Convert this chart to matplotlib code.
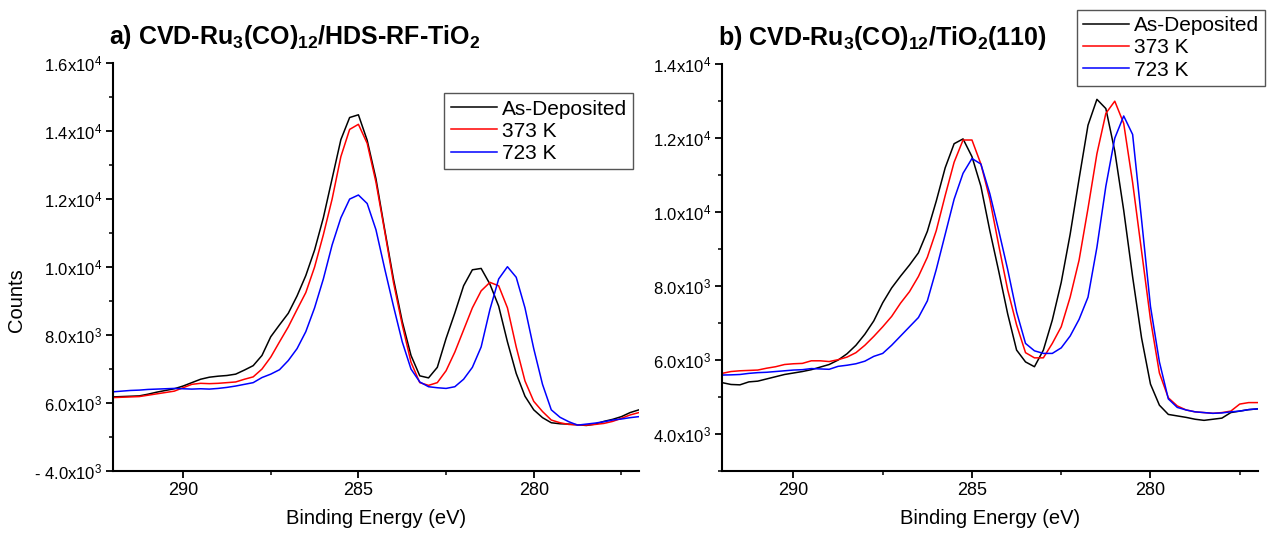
#XPS C 1s / Ru 3d spectra of CVD-Ru3(CO)12 samples after annealing
import numpy as np
import matplotlib
matplotlib.use('Agg')
import matplotlib.pyplot as plt
from matplotlib.ticker import MultipleLocator

plt.rcParams['font.family'] = ['Liberation Sans', 'DejaVu Sans']
plt.rcParams['mathtext.default'] = 'regular'

#binding energy grid (eV), shared by both panels
energy = [292.0 - 0.25 * i for i in range(61)]

#panel a) HDS-RF-TiO2 counts
a_as_dep = [6180, 6190, 6200, 6210, 6260, 6320, 6370, 6420, 6500, 6600,
            6700, 6760, 6790, 6810, 6850, 6970, 7100, 7400, 7950, 8300,
            8640, 9150, 9750, 10500, 11450, 12600, 13750, 14400, 14480, 13730,
            12600, 11100, 9650, 8400, 7400, 6800, 6740, 7050, 7900, 8650,
            9450, 9920, 9960, 9500, 8850, 7800, 6870, 6200, 5800, 5570,
            5420, 5390, 5380, 5360, 5340, 5380, 5460, 5520, 5600, 5720, 5800]
a_373 = [6160, 6170, 6180, 6190, 6230, 6270, 6310, 6350, 6450, 6550,
         6580, 6570, 6580, 6600, 6620, 6700, 6770, 7000, 7350, 7800,
         8240, 8750, 9250, 10000, 10950, 12000, 13250, 14050, 14200, 13640,
         12500, 11050, 9550, 8300, 7200, 6600, 6520, 6600, 6950, 7500,
         8150, 8800, 9300, 9550, 9450, 8800, 7650, 6650, 6050, 5750,
         5500, 5420, 5370, 5360, 5350, 5370, 5400, 5460, 5550, 5650, 5720]
a_723 = [6330, 6350, 6370, 6380, 6400, 6410, 6420, 6430, 6420, 6410,
         6420, 6410, 6430, 6460, 6500, 6550, 6600, 6750, 6850, 6980,
         7250, 7600, 8100, 8800, 9650, 10650, 11450, 12000, 12120, 11870,
         11100, 9950, 8850, 7800, 7000, 6620, 6480, 6450, 6430, 6480,
         6700, 7050, 7650, 8750, 9650, 10010, 9700, 8800, 7600, 6550,
         5800, 5580, 5450, 5350, 5380, 5410, 5450, 5500, 5530, 5570, 5600]

#panel b) TiO2(110) counts
b_as_dep = [5390, 5340, 5330, 5410, 5430, 5490, 5550, 5610, 5650, 5690,
            5740, 5810, 5880, 6000, 6170, 6400, 6700, 7060, 7550, 7950,
            8270, 8570, 8900, 9480, 10300, 11200, 11850, 11980, 11500, 10700,
            9500, 8400, 7250, 6270, 5950, 5820, 6270, 7080, 8100, 9400,
            10900, 12350, 13050, 12800, 11650, 10050, 8250, 6600, 5350, 4780,
            4530, 4490, 4450, 4400, 4370, 4400, 4430, 4580, 4620, 4660, 4680]
b_373 = [5640, 5690, 5710, 5720, 5730, 5780, 5820, 5880, 5900, 5910,
         5980, 5980, 5960, 6010, 6080, 6200, 6400, 6640, 6900, 7180,
         7540, 7850, 8260, 8780, 9500, 10450, 11350, 11950, 11950, 11300,
         10350, 9100, 7900, 6950, 6200, 6060, 6060, 6450, 6900, 7700,
         8700, 10100, 11580, 12670, 13000, 12400, 10800, 8950, 7100, 5650,
         4980, 4760, 4650, 4600, 4580, 4560, 4580, 4620, 4810, 4850, 4850]
b_723 = [5595, 5600, 5610, 5640, 5660, 5670, 5690, 5710, 5730, 5740,
         5770, 5760, 5750, 5830, 5860, 5900, 5970, 6100, 6180, 6400,
         6650, 6900, 7150, 7600, 8450, 9400, 10350, 11050, 11450, 11300,
         10500, 9500, 8450, 7300, 6450, 6250, 6180, 6180, 6330, 6650,
         7100, 7700, 9050, 10700, 12000, 12600, 12100, 9800, 7450, 5950,
         4950, 4720, 4650, 4600, 4580, 4560, 4570, 4600, 4620, 4660, 4680]

labels = ['As-Deposited', '373 K', '723 K']
colors = ['black', 'red', 'blue']

a_yticks = [4000, 6000, 8000, 10000, 12000, 14000, 16000]
a_yticklabels = ['- 4.0x10$^3$', '6.0x10$^3$', '8.0x10$^3$', '1.0x10$^4$',
                 '1.2x10$^4$', '1.4x10$^4$', '1.6x10$^4$']
b_yticks = [4000, 6000, 8000, 10000, 12000, 14000]
b_yticklabels = ['4.0x10$^3$', '6.0x10$^3$', '8.0x10$^3$', '1.0x10$^4$',
                 '1.2x10$^4$', '1.4x10$^4$']
xticks = [290, 285, 280]

fig = plt.figure(figsize=(12.69, 5.35), dpi=100)
ax1 = fig.add_axes([0.089, 0.1196, 0.4145, 0.7624])
ax2 = fig.add_axes([0.569, 0.1196, 0.422, 0.7604])

legend_style = dict(fontsize=15, frameon=True, fancybox=False,
                    edgecolor='#555555', framealpha=1, handlelength=2.2,
                    handletextpad=0.25, labelspacing=0.15, borderpad=0.3,
                    borderaxespad=0)

def style_axis(ax, yticks, yticklabels, ylim):
    ax.set_xlim(292, 277)
    ax.set_ylim(*ylim)
    ax.spines['top'].set_visible(False)
    ax.spines['right'].set_visible(False)
    ax.spines['left'].set_linewidth(1.5)
    ax.spines['bottom'].set_linewidth(1.5)
    ax.set_xticks(xticks)
    ax.set_xticklabels([str(t) for t in xticks], fontsize=13)
    ax.xaxis.set_minor_locator(MultipleLocator(2.5))
    ax.set_yticks(yticks)
    ax.set_yticklabels(yticklabels, fontsize=12)
    ax.yaxis.set_minor_locator(MultipleLocator(1000))
    ax.tick_params(which='major', direction='out', length=5, width=1.3, pad=3)
    ax.tick_params(which='minor', direction='out', length=3, width=1.1)
    ax.set_xlabel('Binding Energy (eV)', fontsize=14.5, labelpad=7)

#graph a)
for series, lab, col in zip([a_as_dep, a_373, a_723], labels, colors):
    ax1.plot(energy, series, color=col, lw=1.1, label=lab)
style_axis(ax1, a_yticks, a_yticklabels, (4000, 16000))
ax1.set_ylabel('Counts', fontsize=14.5)
ax1.yaxis.set_label_coords(-0.165, 0.42)
ax1.set_title('a) CVD-Ru$_3$(CO)$_{12}$/HDS-RF-TiO$_2$', loc='left', x=-0.008,
              fontsize=18, fontweight='bold', pad=14)
ax1.legend(loc='upper right', bbox_to_anchor=(0.989, 0.926), **legend_style)

#graph b)
for series, lab, col in zip([b_as_dep, b_373, b_723], labels, colors):
    ax2.plot(energy, series, color=col, lw=1.1, label=lab)
style_axis(ax2, b_yticks, b_yticklabels, (3000, 14000))
ax2.set_title('b) CVD-Ru$_3$(CO)$_{12}$/TiO$_2$(110)', loc='left', x=-0.007,
              fontsize=18, fontweight='bold', pad=14)
ax2.legend(loc='upper left', bbox_to_anchor=(0.662, 1.133), **legend_style)

fig.savefig('out.png', dpi=100)
